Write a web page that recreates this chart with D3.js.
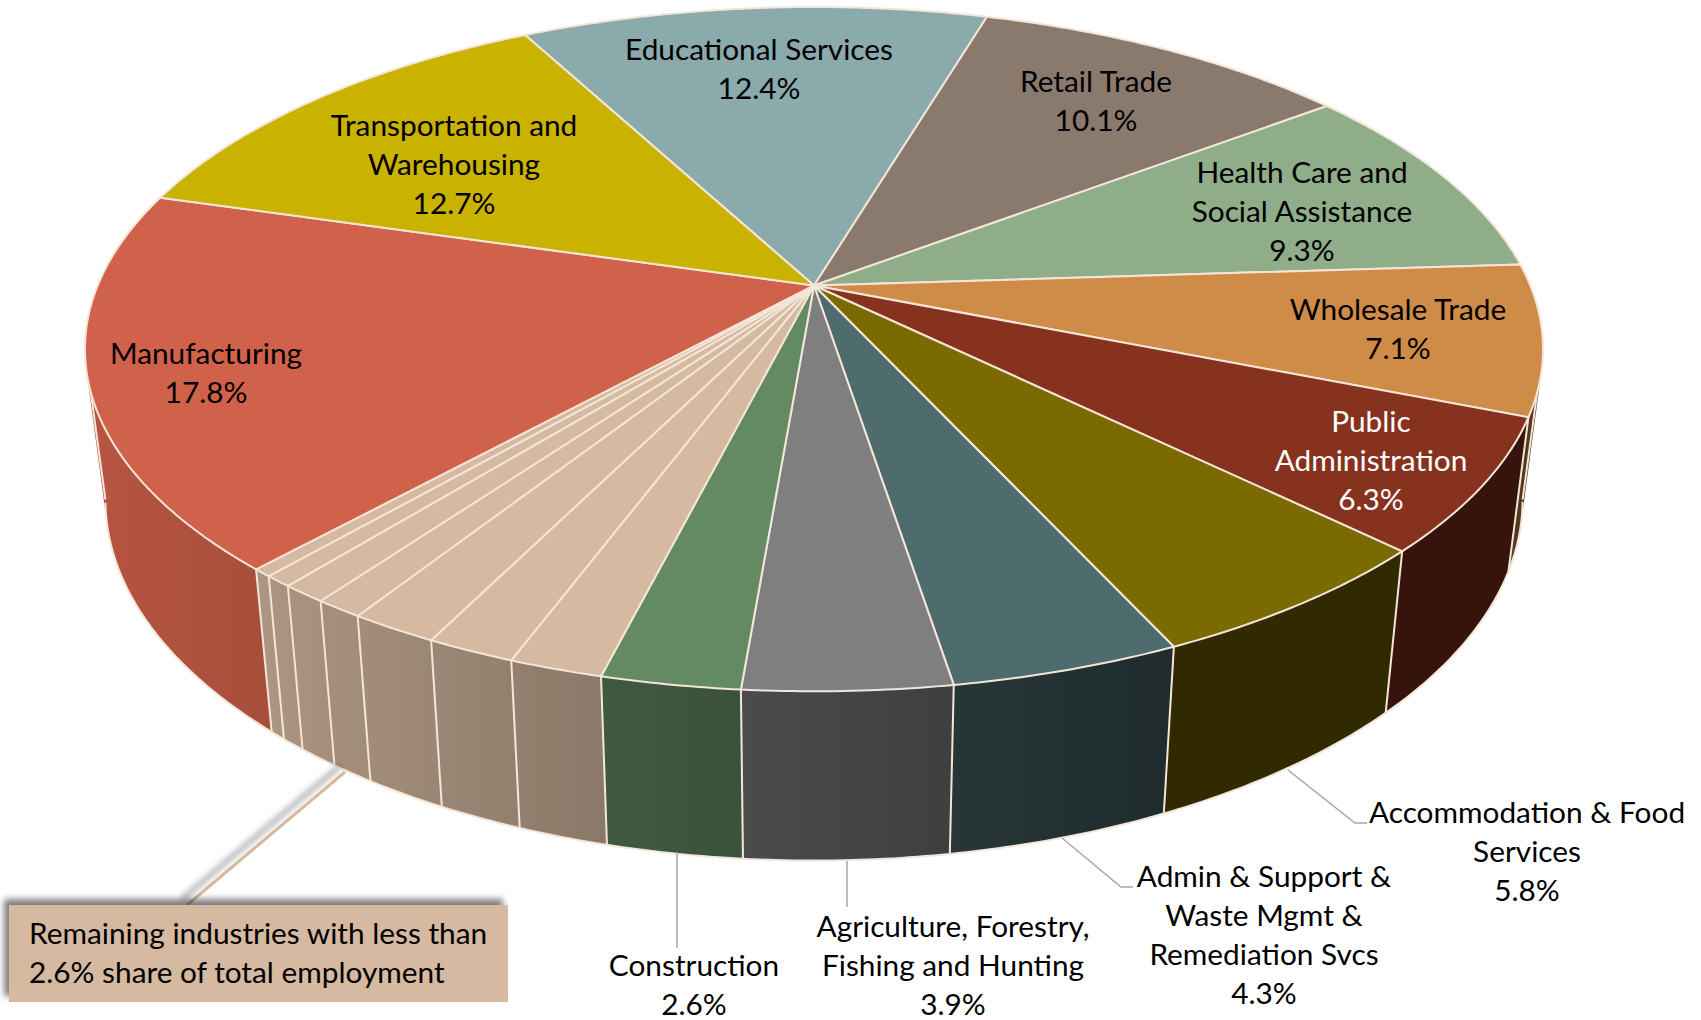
<!DOCTYPE html>
<html>
<head>
<meta charset="utf-8">
<script src="https://cdn.jsdelivr.net/npm/d3@7"></script>
<style>
  body { margin: 0; background: #fff; }
  text { font-family: Lato, "Noto Sans", sans-serif; font-size: 29.8px; fill: #000; }
</style>
</head>
<body>
<div id="vis"></div>
<script>
// Share of total employment, clockwise starting at Educational Services
const industries = ["Educational Services", "Retail Trade", "Health Care and Social Assistance",
  "Wholesale Trade", "Public Administration", "Accommodation & Food Services",
  "Admin & Support & Waste Mgmt & Remediation Svcs", "Agriculture, Forestry, Fishing and Hunting",
  "Construction", "Remaining 1", "Remaining 2", "Remaining 3", "Remaining 4", "Remaining 5",
  "Remaining 6", "Remaining 7", "Manufacturing", "Transportation and Warehousing"];
const shares = [12.4, 10.1, 9.33, 7.1, 6.3, 5.82, 4.32, 3.88, 2.6,
  1.76, 1.68, 1.68, 0.92, 0.87, 0.54, 0.37, 17.84, 12.74];
const colors = ["#8aaaac", "#8a7a6e", "#8fad88", "#cf8c48", "#86321f", "#7a6a00",
  "#4e6b6e", "#7f7f7f", "#638a62", "#d5b9a0", "#d5b9a0", "#d5b9a0", "#d5b9a0", "#d5b9a0",
  "#d5b9a0", "#d5b9a0", "#d0614a", "#c9b200"];

// label text, one entry per line, with the centre of the first line
const labels = [
  {i: 0, lines: ["Educational Services"], x: 759, y: 50},
  {i: 1, lines: ["Retail Trade"], x: 1096, y: 82},
  {i: 2, lines: ["Health Care and", "Social Assistance"], x: 1302, y: 173},
  {i: 3, lines: ["Wholesale Trade"], x: 1398, y: 310},
  {i: 4, lines: ["Public", "Administration"], x: 1371, y: 422, fill: "#fff"},
  {i: 5, lines: ["Accommodation & Food", "Services"], x: 1527, y: 813},
  {i: 6, lines: ["Admin & Support &", "Waste Mgmt &", "Remediation Svcs"], x: 1264, y: 877},
  {i: 7, lines: ["Agriculture, Forestry,", "Fishing and Hunting"], x: 953, y: 927},
  {i: 8, lines: ["Construction"], x: 694, y: 966},
  {i: 16, lines: ["Manufacturing"], x: 206, y: 354},
  {i: 17, lines: ["Transportation and", "Warehousing"], x: 454, y: 126}
];
const LINE_HEIGHT = 38.8;

const leaders = [
  [[677, 852], [677, 948]],
  [[847, 861], [847, 907]],
  [[1062, 838], [1121, 887], [1133, 887]],
  [[1288, 770], [1355, 823], [1367, 823]]
];

const WIDTH = 1701, HEIGHT = 1020;
const CX = 814, CY = 285.5;       // where the slices meet
const RX = 716.3, RY = 330.3;     // plane radius before perspective
const K = 0.186;                  // perspective strength
const EDGE = "#f3e6d8";
// the wall can only be seen between the disc's widest points
const FRONT_FROM = Math.acos(-K), FRONT_TO = 2 * Math.PI - Math.acos(-K);

const svg = d3.select("#vis").append("svg")
  .attr("width", WIDTH).attr("height", HEIGHT);
const defs = svg.append("defs");

const shadow = defs.append("filter").attr("id", "shadow")
  .attr("x", "-10%").attr("y", "-30%").attr("width", "120%").attr("height", "160%");
shadow.append("feDropShadow").attr("dx", -5).attr("dy", -6)
  .attr("stdDeviation", 3).attr("flood-color", "#000").attr("flood-opacity", 0.5);

// pie angles, 0 = top of the disc, clockwise
const pie = d3.pie().sort(null)
  .startAngle(332 * Math.PI / 180)
  .endAngle((332 + 360) * Math.PI / 180);
const arcs = pie(shares);

// angle on the disc -> screen point on top rim
function topPoint(a) {
  const X = Math.sin(a), Y = -Math.cos(a), w = 1 - K * Y;
  return [CX + RX * X / w, CY + RY * Y / w];
}
// top rim point -> bottom rim point
function bottomPoint(p) {
  return [CX + 0.972 * (p[0] - CX), 131.3 + 1.055 * p[1]];
}
function rimAngles(d) {
  const n = Math.max(4, Math.ceil((d.endAngle - d.startAngle) / 0.01));
  return d3.range(n + 1).map(j => d.startAngle + (d.endAngle - d.startAngle) * j / n);
}
function rim(d) {
  return rimAngles(d).map(topPoint);
}
function isFront(a) {
  const t = a % (2 * Math.PI);
  return t >= FRONT_FROM && t <= FRONT_TO;
}

const line = d3.line().curve(d3.curveLinear);
const shade = d3.scaleLinear()
  .domain([90, 280, 600, 950, 1150]).range([0.88, 0.8, 0.65, 0.5, 0.4]).clamp(true);

// side wall, swept as small quads so the part past the disc's widest point fills too
const walls = svg.append("g");
arcs.forEach((d, i) => {
  const r = rim(d), b = r.map(bottomPoint);
  const xs = r.concat(b).map(p => p[0]);
  const x0 = d3.min(xs), x1 = d3.max(xs);
  const grad = defs.append("linearGradient").attr("id", "wall" + i)
    .attr("gradientUnits", "userSpaceOnUse")
    .attr("x1", x0).attr("x2", x1).attr("y1", 0).attr("y2", 0);
  const mix = d3.interpolateRgb("#000", colors[i]);
  grad.append("stop").attr("offset", 0).attr("stop-color", mix(shade(x0)));
  grad.append("stop").attr("offset", 1).attr("stop-color", mix(shade(x1)));
  const quads = d3.range(r.length - 1).map(j => {
    const q = [r[j], r[j + 1], b[j + 1], b[j]];
    if (d3.polygonArea(q) < 0) q.reverse();
    return line(q) + "Z";
  }).join("");
  walls.append("path").attr("d", quads).attr("fill", `url(#wall${i})`);
});

// wall edges: bottom rim, slice boundaries, outer silhouette
const edgeAngles = arcs.map(d => d.startAngle).filter(isFront)
  .concat([FRONT_FROM, FRONT_TO]);
const wallEdges = svg.append("g").attr("fill", "none").attr("stroke", EDGE);
wallEdges.selectAll(".rim").data(arcs).join("path").attr("class", "rim")
  .attr("d", d => {
    const pts = rimAngles(d).filter(isFront).map(topPoint).map(bottomPoint);
    return pts.length > 1 ? line(pts) : null;
  })
  .attr("stroke-width", 2);
wallEdges.selectAll(".side").data(edgeAngles).join("path").attr("class", "side")
  .attr("d", a => line([topPoint(a), bottomPoint(topPoint(a))]))
  .attr("stroke-width", 2);

// top face
svg.append("g").selectAll("path").data(arcs).join("path")
  .attr("d", d => line([[CX, CY]].concat(rim(d))) + "Z")
  .attr("fill", (d, i) => colors[i])
  .attr("stroke", EDGE).attr("stroke-width", 2).attr("stroke-linejoin", "round");

// leader lines
svg.append("g").selectAll("path").data(leaders).join("path")
  .attr("d", line).attr("fill", "none")
  .attr("stroke", "#a6a6a6").attr("stroke-width", 1.5);

// data labels
labels.forEach(l => {
  const t = svg.append("text").attr("text-anchor", "middle");
  l.lines.concat(shares[l.i].toFixed(1) + "%").forEach((s, j) => {
    t.append("tspan").attr("x", l.x).attr("y", l.y + j * LINE_HEIGHT)
      .attr("dy", "0.35em").text(s);
  });
  if (l.fill) t.style("fill", l.fill);
});

// callout for the unlabelled slices
const callout = svg.append("g");
callout.append("path")
  .attr("d", line([[345, 772], [187, 905]]))
  .attr("stroke", "#d5b9a0").attr("stroke-width", 3).attr("filter", "url(#shadow)");
callout.append("rect")
  .attr("x", 9).attr("y", 905).attr("width", 499).attr("height", 97)
  .attr("fill", "#d5b9a0").attr("filter", "url(#shadow)");
["Remaining industries with less than", "2.6% share of total employment"].forEach((s, j) => {
  callout.append("text").attr("x", 29).attr("y", 934 + j * LINE_HEIGHT)
    .attr("dy", "0.35em").text(s);
});
</script>
</body>
</html>
